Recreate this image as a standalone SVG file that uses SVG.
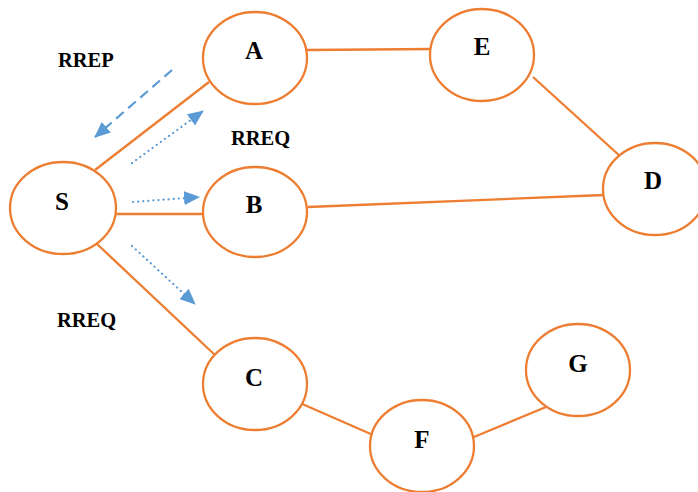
<svg xmlns="http://www.w3.org/2000/svg" width="698" height="492" viewBox="0 0 698 492">
  <style>
    .node ellipse { fill: #fff; stroke: #ED7D31; stroke-width: 2.3; }
    .node text, .label { font-family: "Liberation Serif", "Times New Roman", serif; font-weight: bold; fill: #000; }
    .node text { font-size: 25px; text-anchor: middle; }
    .label { font-size: 20.5px; }
    .link { stroke: #ED7D31; stroke-width: 2.3; fill: none; }
    .rreq { stroke: #5B9BD5; stroke-width: 2.2; stroke-dasharray: 0.1 5; stroke-linecap: round; fill: none; }
    .rrep { stroke: #5B9BD5; stroke-width: 2.2; stroke-dasharray: 10 6; fill: none; }
  </style>
  <defs>
    <marker id="tri" markerUnits="userSpaceOnUse" markerWidth="16" markerHeight="14" refX="15" refY="7" orient="auto">
      <path d="M0,0 L16,7 L0,14 Z" fill="#5B9BD5"/>
    </marker>
  </defs>

  <rect width="698" height="492" fill="#fff"/>

  <g id="connectors">
    <line class="link" x1="95" y1="170" x2="209" y2="82"/>
    <line class="link" x1="116" y1="214" x2="208" y2="214"/>
    <line class="link" x1="97" y1="244" x2="216" y2="356"/>
    <line class="link" x1="307" y1="50" x2="434" y2="49"/>
    <line class="link" x1="533" y1="77" x2="621" y2="157"/>
    <line class="link" x1="308" y1="207" x2="604" y2="195"/>
    <line class="link" x1="300" y1="403" x2="373" y2="435"/>
    <line class="link" x1="474" y1="437" x2="546" y2="407"/>
    <!-- route request / reply messages -->
    <line class="rrep" x1="172" y1="70" x2="95" y2="137" marker-end="url(#tri)"/>
    <line class="rreq" x1="132" y1="163" x2="203" y2="111" marker-end="url(#tri)"/>
    <line class="rreq" x1="133" y1="202" x2="199" y2="197" marker-end="url(#tri)"/>
    <line class="rreq" x1="132" y1="246" x2="195" y2="304" marker-end="url(#tri)"/>
  </g>

  <g id="node-S" class="node"><ellipse cx="63" cy="208" rx="53" ry="46"/><text x="62" y="210">S</text></g>
  <g id="node-A" class="node"><ellipse cx="255" cy="58" rx="52" ry="46"/><text x="254" y="59">A</text></g>
  <g id="node-B" class="node"><ellipse cx="255" cy="212" rx="52" ry="45"/><text x="254" y="213">B</text></g>
  <g id="node-C" class="node"><ellipse cx="255" cy="384" rx="52" ry="46"/><text x="254" y="386">C</text></g>
  <g id="node-E" class="node"><ellipse cx="482" cy="55" rx="52" ry="46"/><text x="482" y="55">E</text></g>
  <g id="node-D" class="node"><ellipse cx="655" cy="189" rx="52" ry="46"/><text x="653" y="189">D</text></g>
  <g id="node-F" class="node"><ellipse cx="422" cy="446" rx="52" ry="46"/><text x="422" y="448">F</text></g>
  <g id="node-G" class="node"><ellipse cx="578" cy="370" rx="52" ry="46"/><text x="578" y="372">G</text></g>

  <text class="label" x="58" y="67">RREP</text>
  <text class="label" x="231" y="145">RREQ</text>
  <text class="label" x="57" y="327">RREQ</text>
</svg>
